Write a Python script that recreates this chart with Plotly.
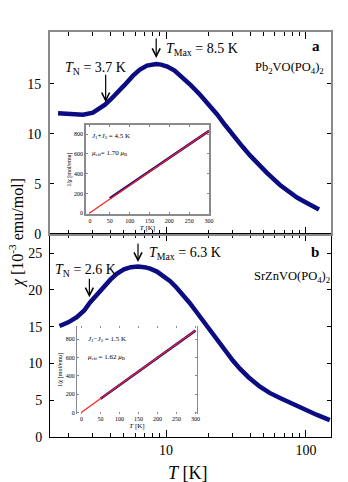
import plotly.graph_objects as go
import math

# ---------------- data ----------------
T_a = [1.69, 2.0, 2.55, 3.0, 3.38, 3.66, 4.0, 4.47, 5.0, 5.81, 6.5, 7.31, 8.0, 8.5, 9.2, 10.2,
       11.5, 13.2, 15.0, 17.5, 20.0, 23.1, 26.5, 30.1, 35.0, 39.8, 45.0, 52.6, 65.2, 75.0, 86.3, 100.0, 124.0]
chi_a = [12.05, 11.95, 11.9, 12.1, 12.55, 12.9, 13.4, 14.05, 14.8, 15.8, 16.4, 16.8, 16.95, 16.95, 16.9, 16.7,
         16.3, 15.6, 14.85, 13.9, 13.0, 11.95, 10.85, 9.85, 8.75, 7.85, 7.05, 6.1, 4.9, 4.25, 3.65, 3.15, 2.45]

T_b = [1.73, 2.0, 2.3, 2.6, 2.86, 3.2, 3.56, 4.0, 4.44, 5.0, 5.6, 6.3, 7.0, 7.7, 8.6, 9.6, 10.7, 11.9,
       13.3, 14.8, 16.5, 18.5, 21.0, 24.0, 27.1, 30.0, 33.7, 39.0, 46.9, 55.0, 65.2, 80.0, 95.5, 120.0, 148.0]
chi_b = [15.1, 15.6, 16.3, 17.2, 18.3, 19.4, 20.4, 21.4, 22.2, 22.8, 23.1, 23.2, 23.1, 22.9, 22.5, 21.9, 21.2, 20.3,
         19.3, 18.2, 17.0, 15.7, 14.2, 12.7, 11.4, 10.4, 9.3, 8.1, 6.85, 6.0, 5.3, 4.5, 3.9, 3.0, 2.3]

# insets: inverse susceptibility
Tin = [50, 75, 100, 125, 150, 175, 200, 225, 250, 275, 300]
inv_a = [150, 218, 287, 355, 423, 492, 560, 628, 697, 765, 833]
inv_b = [152, 226, 300, 374, 449, 523, 597, 672, 746, 820, 895]
fitT = [0, 300]
fit_a = [3, 835]
fit_b = [4, 895]

TN = [3.7, 2.6]
TN_arrow = [3.7, 2.83]
Tmax = [8.5, 6.3]
chi_TN_tip = [13.15, 19.0]
chi_Tmax_tip = [17.55, 23.8]

main_yticks_a = [0, 5, 10, 15]
main_yticks_b = [0, 5, 10, 15, 20, 25]
major_x = [10, 100]
minor_x = [2, 3, 4, 5, 6, 7, 8, 9, 20, 30, 40, 50, 60, 70, 80, 90]
inset_xticks = [0, 50, 100, 150, 200, 250, 300]
inset_yticks = [0, 200, 400, 600, 800]

NAVY = "#0b0b82"
GRAY = "#8a8a8a"
SERIF = "Liberation Serif, Times New Roman, serif"

fig = go.Figure()
fig.add_trace(go.Scatter(x=T_b, y=chi_b, mode="lines", line=dict(color=NAVY, width=4.5),
                         xaxis="x", yaxis="y"))
fig.add_trace(go.Scatter(x=T_a, y=chi_a, mode="lines", line=dict(color=NAVY, width=4.5),
                         xaxis="x2", yaxis="y2"))
fig.add_trace(go.Scatter(x=Tin, y=inv_a, mode="lines", line=dict(color=NAVY, width=2.5),
                         xaxis="x3", yaxis="y3"))
fig.add_trace(go.Scatter(x=fitT, y=fit_a, mode="lines", line=dict(color="#ff2020", width=1.2),
                         xaxis="x3", yaxis="y3"))
fig.add_trace(go.Scatter(x=Tin, y=inv_b, mode="lines", line=dict(color=NAVY, width=2.5),
                         xaxis="x4", yaxis="y4"))
fig.add_trace(go.Scatter(x=fitT, y=fit_b, mode="lines", line=dict(color="#ff2020", width=1.2),
                         xaxis="x4", yaxis="y4"))

xr = [math.log10(1.48), math.log10(151)]
tickfont = dict(family=SERIF, size=14, color="black")
small = dict(family=SERIF, size=6, color="black")

common_x = dict(type="log", range=xr, ticks="inside", ticklen=7, tickwidth=1, tickcolor="black",
                tickvals=major_x, minor=dict(tickvals=minor_x, ticks="inside", ticklen=4, tickcolor="black"),
                showgrid=False, zeroline=False, mirror="ticks")

layout = dict(
    width=348, height=482,
    margin=dict(l=50, r=17, t=32, b=45),
    paper_bgcolor="white", plot_bgcolor="white",
    showlegend=False,
    font=dict(family=SERIF, color="black"),
    xaxis=dict(**common_x, anchor="y", domain=[0, 1], showline=True, linecolor="black", linewidth=1,
               tickfont=tickfont),
    yaxis=dict(domain=[0, 0.501], range=[0, 27.6], tickvals=main_yticks_b, ticks="inside", ticklen=4,
               tickcolor="black", showline=True, linecolor="black", linewidth=1, mirror="ticks",
               showgrid=False, zeroline=False, tickfont=tickfont, ticklabelstandoff=4),
    xaxis2=dict(**common_x, anchor="y2", domain=[0, 1], showline=True, linecolor=GRAY, linewidth=2,
                showticklabels=False),
    yaxis2=dict(domain=[0.501, 1], range=[0, 20.15], tickvals=main_yticks_a, ticks="inside", ticklen=4,
                tickcolor="black", showline=True, linecolor=GRAY, linewidth=2, mirror="ticks",
                showgrid=False, zeroline=False, tickfont=tickfont, anchor="x2", ticklabelstandoff=4),
    xaxis3=dict(domain=[0.128, 0.566], anchor="y3", range=[-10, 300], tickvals=inset_xticks,
                ticks="inside", ticklen=2, tickcolor=GRAY, showline=True, linecolor=GRAY, linewidth=1.5,
                mirror="ticks", showgrid=False, zeroline=False, tickfont=small,
                title=dict(text="<i>T</i> [K]", font=dict(family=SERIF, size=7), standoff=1)),
    yaxis3=dict(domain=[0.551, 0.770], anchor="x3", range=[-7, 891], tickvals=inset_yticks,
                ticks="inside", ticklen=2, tickcolor=GRAY, showline=True, linecolor=GRAY, linewidth=1.5,
                mirror="ticks", showgrid=False, zeroline=False, tickfont=small,
                title=dict(text="1/<i>χ</i> [mol/emu]", font=dict(family=SERIF, size=6), standoff=2)),
    xaxis4=dict(domain=[0.096, 0.523], anchor="y4", range=[-12, 304], tickvals=inset_xticks,
                ticks="inside", ticklen=2, tickcolor=GRAY, showline=False, mirror="ticks",
                showgrid=False, zeroline=False, tickfont=small,
                title=dict(text="<i>T</i> [K]", font=dict(family=SERIF, size=7), standoff=1)),
    yaxis4=dict(domain=[0.057, 0.274], anchor="x4", range=[-14, 945], tickvals=inset_yticks,
                ticks="inside", ticklen=2, tickcolor=GRAY, showline=True, linecolor=GRAY, linewidth=1,
                mirror="ticks", showgrid=False, zeroline=False, tickfont=small,
                title=dict(text="1/<i>χ</i> [mol/emu]", font=dict(family=SERIF, size=6), standoff=2)),
)
fig.update_layout(**layout)

ann = []
def txt(text, x, y, size=14, xanchor="left", textangle=0):
    ann.append(dict(text=text, x=x, y=y, xref="paper", yref="paper", xanchor=xanchor, yanchor="middle",
                    showarrow=False, font=dict(family=SERIF, size=size, color="black"), textangle=textangle))

# arrows (data-anchored)
def arrow(T, chi, xa, ya, ay):
    ann.append(dict(x=math.log10(T), y=chi, xref=xa, yref=ya, ax=0, ay=ay, text="", showarrow=True,
                    arrowhead=5, arrowsize=1.3, arrowwidth=1.2, arrowcolor="black"))

arrow(TN_arrow[0], chi_TN_tip[0], "x2", "y2", -29)
arrow(Tmax[0], chi_Tmax_tip[0], "x2", "y2", -21)
arrow(TN_arrow[1], chi_TN_tip[1], "x", "y", -20)
arrow(Tmax[1], chi_Tmax_tip[1], "x", "y", -20)

txt(f"<i>T</i><sub>N</sub> = {TN[0]} K", 0.047, 0.909)
txt(f"<i>T</i><sub>Max</sub> = {Tmax[0]} K", 0.406, 0.956)
txt("<b>a</b>", 0.947, 0.965, size=15, xanchor="center")
txt("Pb<sub>2</sub>VO(PO<sub>4</sub>)<sub>2</sub>", 0.722, 0.911, size=12.5)
txt(f"<i>T</i><sub>N</sub> = {TN[1]} K", 0.011, 0.412)
txt(f"<i>T</i><sub>Max</sub> = {Tmax[1]} K", 0.345, 0.452)
txt("<b>b</b>", 0.943, 0.457, size=15, xanchor="center")
txt("SrZnVO(PO<sub>4</sub>)<sub>2</sub>", 0.719, 0.395, size=12.5)

txt("<i>J</i><sub>1</sub>+<i>J</i><sub>2</sub> = 4.5 K", 0.142, 0.743, size=7)
txt("<i>μ</i><sub>eff</sub>= 1.70 <i>μ</i><sub>B</sub>", 0.142, 0.701, size=7)
txt("<i>J</i><sub>1</sub>−<i>J</i><sub>2</sub> = 1.5 K", 0.128, 0.242, size=7)
txt("<i>μ</i><sub>eff</sub> = 1.62 <i>μ</i><sub>B</sub>", 0.128, 0.198, size=7)

txt("<i>χ</i> [10<sup>-3</sup> emu/mol]", -0.117, 0.504, size=16, xanchor="center", textangle=-90)
txt("<i>T</i> [K]", 0.491, -0.089, size=18, xanchor="center")

fig.update_layout(annotations=ann)
fig.write_html("out.html", config={"displayModeBar": False},
               post_script="document.body.style.margin='0';document.body.style.padding='0';")
